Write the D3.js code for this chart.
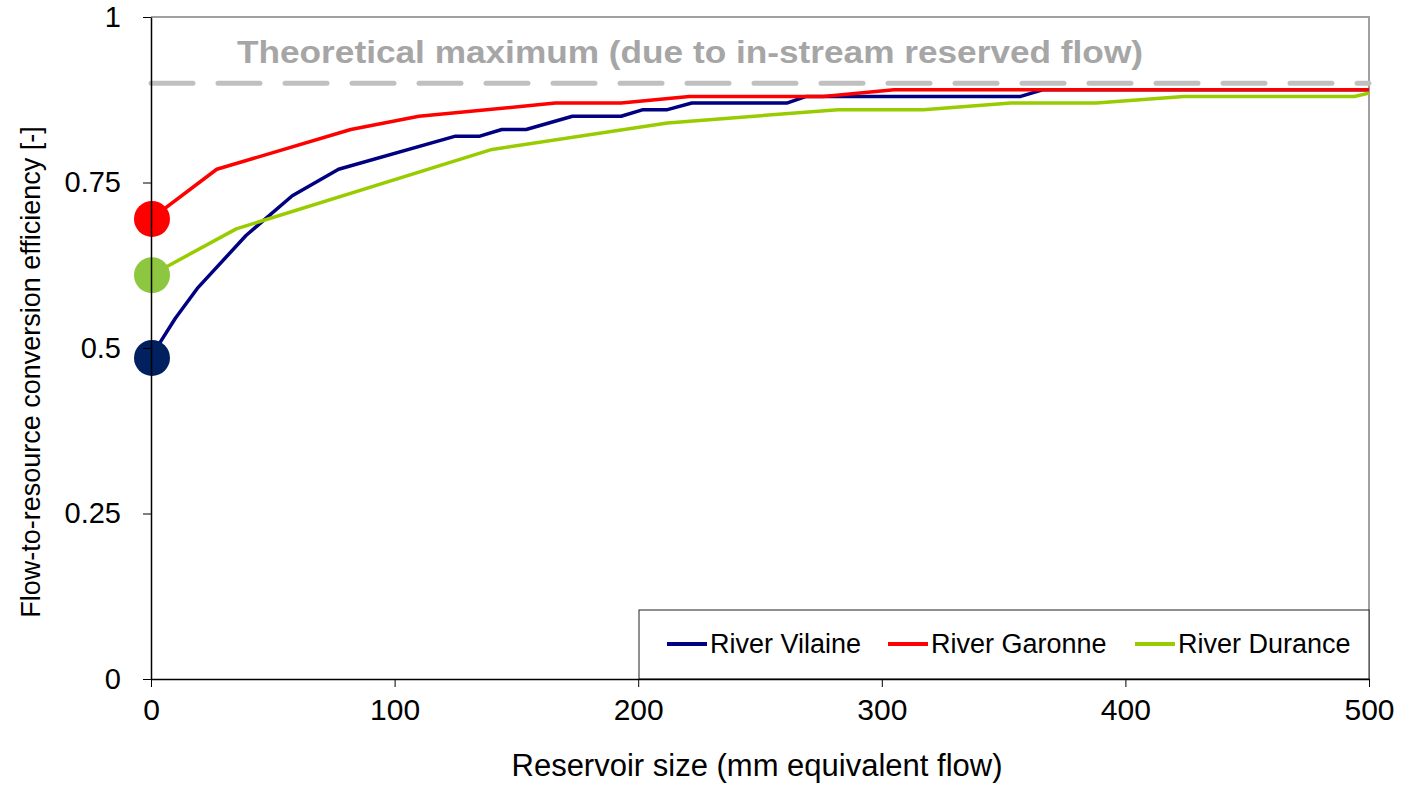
<!DOCTYPE html>
<html>
<head>
<meta charset="utf-8">
<script src="https://d3js.org/d3.v7.min.js"></script>
<style>
  body { margin: 0; background: #fff; }
  text { font-family: 'Liberation Sans', Arial, sans-serif; }
</style>
</head>
<body>
<div id="chart"></div>
<script>
// data: [reservoir size (mm), efficiency]
var vilaine = [[0, 0.485], [4, 0.51], [10, 0.545], [19, 0.59], [39, 0.67], [58, 0.73], [77, 0.77],
  [125, 0.82], [135, 0.82], [144, 0.83], [154, 0.83], [173, 0.85], [193, 0.85], [202, 0.86],
  [212, 0.86], [222, 0.87], [261, 0.87], [269, 0.88], [357, 0.88], [366, 0.89], [500, 0.89]];
var garonne = [[0, 0.695], [27, 0.77], [82, 0.83], [110, 0.85], [166, 0.87], [193, 0.87],
  [221, 0.88], [276, 0.88], [305, 0.89], [500, 0.89]];
var durance = [[0, 0.61], [35, 0.68], [140, 0.80], [212, 0.84], [282, 0.86], [317, 0.86],
  [353, 0.87], [388, 0.87], [424, 0.88], [494, 0.88], [500, 0.885]];

var seriesNames = ['River Vilaine', 'River Garonne', 'River Durance'];
var seriesData = [vilaine, garonne, durance];
var lineColors = ['#000080', '#ff0000', '#99cc00'];
var markerColors = ['#002060', '#ff0000', '#8dc63f'];

var theoreticalMax = 0.9;
var maxLabel = 'Theoretical maximum (due to in-stream reserved flow)';

var xTicks = [0, 100, 200, 300, 400, 500];
var yTicks = [0, 0.25, 0.5, 0.75, 1];
var yTickLabels = ['0', '0.25', '0.5', '0.75', '1'];

// set the dimensions and margins of the graph
var margin = {top: 17, right: 33, bottom: 106, left: 151},
    width = 1402 - margin.left - margin.right,
    height = 785 - margin.top - margin.bottom;

var x = d3.scaleLinear().domain([0, 500]).range([0, width]);
var y = d3.scaleLinear().domain([0, 1]).range([height, 0]);

var svg = d3.select('#chart').append('svg')
    .attr('width', 1402)
    .attr('height', 785)
  .append('g')
    .attr('transform', 'translate(' + margin.left + ',' + margin.top + ')');

// plot area frame (top and right, grey)
svg.append('path')
    .attr('d', 'M0,0H' + width + 'V' + height)
    .attr('fill', 'none')
    .attr('stroke', '#a0a0a0')
    .attr('stroke-width', 2);

// legend box (drawn first so the axis sits over its bottom edge)
var legend = svg.append('g').attr('transform', 'translate(488,593)');
legend.append('rect')
    .attr('width', width - 488)
    .attr('height', height - 593)
    .attr('fill', '#fff')
    .attr('stroke', '#222')
    .attr('stroke-width', 1);

var legendX = [28, 249, 496];
seriesNames.forEach(function(name, i) {
  legend.append('line')
      .attr('x1', legendX[i]).attr('x2', legendX[i] + 40)
      .attr('y1', 34).attr('y2', 34)
      .attr('stroke', lineColors[i])
      .attr('stroke-width', 4);
  legend.append('text')
      .attr('x', legendX[i] + 43)
      .attr('y', 43)
      .attr('font-size', '27px')
      .attr('fill', '#000')
      .text(name);
});

// theoretical maximum dashed line + label
svg.append('line')
    .attr('x1', x(0)).attr('x2', x(500))
    .attr('y1', y(theoreticalMax)).attr('y2', y(theoreticalMax))
    .attr('stroke', '#c0c0c0')
    .attr('stroke-width', 5)
    .attr('stroke-linecap', 'round')
    .attr('stroke-dasharray', '42,25');

svg.append('text')
    .attr('x', 539)
    .attr('y', 46)
    .attr('text-anchor', 'middle')
    .attr('font-family', "'Open Sans', sans-serif")
    .attr('font-weight', 'bold')
    .attr('font-size', '32px')
    .attr('fill', '#a6a6a6')
    .attr('textLength', 906)
    .attr('lengthAdjust', 'spacingAndGlyphs')
    .text(maxLabel);

// define the line
var valueline = d3.line()
    .x(function(d) { return x(d[0]); })
    .y(function(d) { return y(d[1]); });

seriesData.forEach(function(data, i) {
  svg.append('path')
      .datum(data)
      .attr('fill', 'none')
      .attr('stroke', lineColors[i])
      .attr('stroke-width', 3.5)
      .attr('stroke-linejoin', 'round')
      .attr('d', valueline);
});

// big markers at zero reservoir size
seriesData.forEach(function(data, i) {
  svg.append('circle')
      .attr('cx', x(data[0][0]) + 1)
      .attr('cy', y(data[0][1]))
      .attr('r', 18)
      .attr('fill', markerColors[i]);
});

// Add the X Axis
var xAxis = svg.append('g')
    .attr('transform', 'translate(0,' + height + ')')
    .call(d3.axisBottom(x).tickValues(xTicks).tickSize(8).tickPadding(12).tickSizeOuter(0));
xAxis.select('.domain').attr('stroke', '#000').attr('stroke-width', 1.5);
xAxis.selectAll('.tick line').attr('stroke', '#000');
xAxis.selectAll('.tick text')
    .attr('font-family', "'Liberation Sans', Arial, sans-serif")
    .attr('font-size', '30px')
    .attr('fill', '#000');

// Add the Y Axis
var yAxis = svg.append('g')
    .call(d3.axisLeft(y).tickValues(yTicks).tickSize(8).tickPadding(22).tickSizeOuter(0)
      .tickFormat(function(d, i) { return yTickLabels[i]; }));
yAxis.select('.domain').attr('stroke', '#000').attr('stroke-width', 1.5);
yAxis.selectAll('.tick line').attr('stroke', '#000');
yAxis.selectAll('.tick text')
    .attr('font-family', "'Liberation Sans', Arial, sans-serif")
    .attr('font-size', '29px')
    .attr('fill', '#000');

// axis titles
svg.append('text')
    .attr('x', width / 2 - 3)
    .attr('y', 759)
    .attr('text-anchor', 'middle')
    .attr('font-size', '31px')
    .attr('fill', '#000')
    .text('Reservoir size (mm equivalent flow)');

svg.append('text')
    .attr('transform', 'translate(-111,' + (355) + ') rotate(-90)')
    .attr('text-anchor', 'middle')
    .attr('font-size', '27px')
    .attr('fill', '#000')
    .text('Flow-to-resource conversion efficiency [-]');
</script>
</body>
</html>
